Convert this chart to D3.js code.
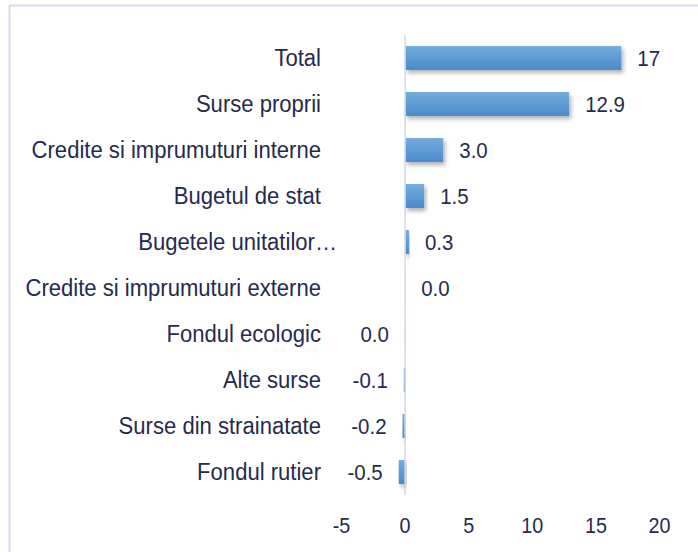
<!DOCTYPE html>
<html>
<head>
<meta charset="utf-8">
<script src="https://cdn.jsdelivr.net/npm/d3@7"></script>
<style>
  html, body { margin: 0; padding: 0; background: #fff; }
  svg { display: block; }
  text { font-family: "Liberation Sans Narrow", "Arial Narrow", "Liberation Sans", Arial, sans-serif; fill: #262a4f; }
</style>
</head>
<body>
<svg id="chart"></svg>
<script>
// categories, top to bottom
var categories = ["Total", "Surse proprii", "Credite si imprumuturi interne", "Bugetul de stat",
  "Bugetele unitatilor…", "Credite si imprumuturi externe", "Fondul ecologic", "Alte surse",
  "Surse din strainatate", "Fondul rutier"];
var values = [17, 12.9, 3.0, 1.5, 0.3, 0.01, -0.02, -0.1, -0.2, -0.5];
var valueLabels = ["17", "12.9", "3.0", "1.5", "0.3", "0.0", "0.0", "-0.1", "-0.2", "-0.5"];
var xTicks = [-5, 0, 5, 10, 15, 20];

var width = 698, height = 552;

var svg = d3.select("svg#chart")
    .attr("width", width)
    .attr("height", height);

var defs = svg.append("defs");
var grad = defs.append("linearGradient")
    .attr("id", "barGrad")
    .attr("x1", 0).attr("y1", 0).attr("x2", 0).attr("y2", 1);
grad.append("stop").attr("offset", "0%").attr("stop-color", "#74acdd");
grad.append("stop").attr("offset", "100%").attr("stop-color", "#4a8acb");

var shadow = defs.append("filter")
    .attr("id", "shadow")
    .attr("x", "-20%").attr("y", "-40%").attr("width", "140%").attr("height", "200%");
shadow.append("feDropShadow")
    .attr("dx", 2).attr("dy", 3)
    .attr("stdDeviation", 2)
    .attr("flood-color", "#000")
    .attr("flood-opacity", 0.3);

// frame (cut off at right and bottom)
svg.append("rect")
    .attr("x", 9.5).attr("y", 5.5)
    .attr("width", 720).attr("height", 580)
    .attr("fill", "none")
    .attr("stroke", "#d6d9ef")
    .attr("stroke-width", 2);

var x = d3.scaleLinear()
    .domain([-5, 20])
    .range([341.5, 659.5]);

var y = d3.scaleBand()
    .domain(categories)
    .range([35, 495])
    .paddingInner(0.48)
    .paddingOuter(0.24);

// narrow-looking text: squeeze horizontally around the anchor point
function squeeze(tx, ty, s) {
  return "translate(" + tx + "," + ty + ") scale(" + s + ",1)";
}

// x tick labels
svg.append("g")
    .selectAll("text")
    .data(xTicks)
    .enter().append("text")
    .attr("transform", function(d) { return squeeze(x(d), 525, 0.9); })
    .attr("dy", "0.35em")
    .attr("text-anchor", "middle")
    .attr("font-size", 22)
    .text(function(d) { return String(d); });

// bars
svg.append("g")
    .selectAll("rect")
    .data(values)
    .enter().append("rect")
    .attr("x", function(d) { return Math.min(x(0), x(d)); })
    .attr("y", function(d, i) { return y(categories[i]); })
    .attr("width", function(d) { return Math.abs(x(d) - x(0)); })
    .attr("height", y.bandwidth())
    .attr("fill", "url(#barGrad)")
    .attr("filter", "url(#shadow)");

// zero line
svg.append("line")
    .attr("x1", x(0)).attr("x2", x(0))
    .attr("y1", 35).attr("y2", 495)
    .attr("stroke", "#d3d7ed")
    .attr("stroke-width", 1.5);

// category labels (the truncated one sticks out a bit further, like in the original)
svg.append("g")
    .selectAll("text")
    .data(categories)
    .enter().append("text")
    .attr("transform", function(d) {
      var tx = d.slice(-1) === "…" ? 337 : 321;
      return squeeze(tx, y(d) + y.bandwidth() / 2, 0.96);
    })
    .attr("dy", "0.35em")
    .attr("text-anchor", "end")
    .attr("font-size", 23)
    .text(function(d) { return d; });

// value labels
svg.append("g")
    .selectAll("text")
    .data(values)
    .enter().append("text")
    .attr("transform", function(d, i) {
      var tx = d >= 0 ? x(d) + 16 : x(d) - 16;
      return squeeze(tx, y(categories[i]) + y.bandwidth() / 2, 0.93);
    })
    .attr("dy", "0.35em")
    .attr("text-anchor", function(d) { return d >= 0 ? "start" : "end"; })
    .attr("font-size", 22)
    .text(function(d, i) { return valueLabels[i]; });
</script>
</body>
</html>
